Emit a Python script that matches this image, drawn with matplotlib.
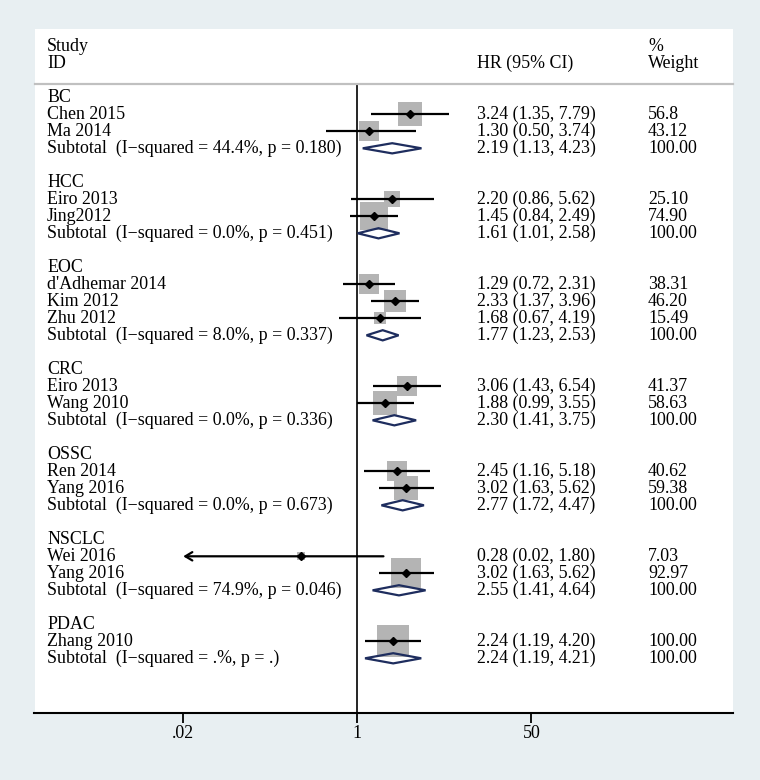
import numpy as np
import matplotlib
matplotlib.use("Agg")
import matplotlib.pyplot as plt
from matplotlib.patches import Polygon
from matplotlib.transforms import blended_transform_factory

# ---------------- data ----------------
groups = ["BC", "HCC", "EOC", "CRC", "OSSC", "NSCLC", "PDAC"]
studies = [
    ["Chen 2015", "Ma 2014"],
    ["Eiro 2013", "Jing2012"],
    ["d'Adhemar 2014", "Kim 2012", "Zhu 2012"],
    ["Eiro 2013", "Wang 2010"],
    ["Ren 2014", "Yang 2016"],
    ["Wei 2016", "Yang 2016"],
    ["Zhang 2010"],
]
hr = [[3.24, 1.30], [2.20, 1.45], [1.29, 2.33, 1.68], [3.06, 1.88],
      [2.45, 3.02], [0.28, 3.02], [2.24]]
lo = [[1.35, 0.50], [0.86, 0.84], [0.72, 1.37, 0.67], [1.43, 0.99],
      [1.16, 1.63], [0.02, 1.63], [1.19]]
hi = [[7.79, 3.74], [5.62, 2.49], [2.31, 3.96, 4.19], [6.54, 3.55],
      [5.18, 5.62], [1.80, 5.62], [4.20]]
weights = [["56.8", "43.12"], ["25.10", "74.90"], ["38.31", "46.20", "15.49"],
           ["41.37", "58.63"], ["40.62", "59.38"], ["7.03", "92.97"], ["100.00"]]
sub_hr = [2.19, 1.61, 1.77, 2.30, 2.77, 2.55, 2.24]
sub_lo = [1.13, 1.01, 1.23, 1.41, 1.72, 1.41, 1.19]
sub_hi = [4.23, 2.58, 2.53, 3.75, 4.47, 4.64, 4.21]
i2 = ["44.4%", "0.0%", "8.0%", "0.0%", "0.0%", "74.9%", ".%"]
pval = ["0.180", "0.451", "0.337", "0.336", "0.673", "0.046", "."]
xticks = [0.02, 1, 50]
xticklabels = [".02", "1", "50"]
clip_low = 0.02  # CI truncated at the lowest axis label (arrow)

# ---------------- styling ----------------
FONT = "Liberation Serif"
FS = 12.9
BG = "#e8eff2"
BOXC = "#b4b4b4"
DIAC = "#1e2d5e"

W, H = 760, 780
fig = plt.figure(figsize=(W / 100, H / 100), dpi=100, facecolor=BG)
x0p, x1p, y0p, y1p = 34.5, 733.0, 28.5, 713.0
ax = fig.add_axes([x0p / W, (H - y1p) / H, (x1p - x0p) / W, (y1p - y0p) / H])
ax.set_facecolor("white")

one_px, px_per_ln = 357.3, 44.5
ax.set_xscale("log")
ax.set_xlim(np.exp((x0p - one_px) / px_per_ln), np.exp((x1p - one_px) / px_per_ln))
row0_px, row_px = 97.3, 17.0
ax.set_ylim((y1p - row0_px) / row_px, (y0p - row0_px) / row_px)

for s in ["top", "right", "left"]:
    ax.spines[s].set_visible(False)
ax.spines["bottom"].set_linewidth(1.5)
ax.set_yticks([])
ax.set_xticks(xticks)
ax.set_xticklabels(xticklabels, fontfamily=FONT, fontsize=FS)
ax.xaxis.set_minor_locator(matplotlib.ticker.NullLocator())
ax.tick_params(axis="x", direction="out", length=7.5, width=1.3, pad=1.5, color="black")

tr = blended_transform_factory(ax.transAxes, ax.transData)
xl = (47 - x0p) / (x1p - x0p)
xh = (477 - x0p) / (x1p - x0p)
xw = (648 - x0p) / (x1p - x0p)
boff = 0.25  # baseline offset of text in rows

def txt(x, y, s):
    ax.text(x, y + boff, s, transform=tr, fontfamily=FONT, fontsize=FS,
            va="baseline", ha="left", color="black")

# header
txt(xl, -3, "Study")
txt(xl, -2, "ID")
txt(xh, -2, "HR (95% CI)")
txt(xw, -3, "%")
txt(xw, -2, "Weight")
hdr_y = (84.3 - row0_px) / row_px
ax.plot([0, 1], [hdr_y, hdr_y], transform=tr, color="#c0c0c0", lw=1.6, clip_on=False)

# null line
ax.plot([1, 1], [hdr_y, ax.get_ylim()[0]], color="black", lw=1.2, zorder=1)

box_max_pt = 31.5 * 0.72
row = 0
for g in range(len(groups)):
    txt(xl, row, groups[g])
    row += 1
    for k in range(len(studies[g])):
        y = row
        txt(xl, y, studies[g][k])
        txt(xh, y, f"{hr[g][k]:.2f} ({lo[g][k]:.2f}, {hi[g][k]:.2f})")
        txt(xw, y, weights[g][k])
        w = float(weights[g][k])
        ax.plot([hr[g][k]], [y], marker="s", ms=box_max_pt * np.sqrt(w / 100),
                color=BOXC, mew=0, zorder=2)
        if lo[g][k] <= clip_low:
            ax.annotate("", xy=(clip_low, y), xytext=(hi[g][k], y),
                        arrowprops=dict(arrowstyle="->,head_length=0.5,head_width=0.3",
                                        lw=1.6, color="black", shrinkA=0, shrinkB=0),
                        zorder=3)
        else:
            ax.plot([lo[g][k], hi[g][k]], [y, y], color="black", lw=1.6, zorder=3,
                    solid_capstyle="butt")
        ax.plot([hr[g][k]], [y], marker="D", ms=3.6, color="black", zorder=4)
        row += 1
    y = row
    txt(xl, y, f"Subtotal  (I\u2212squared = {i2[g]}, p = {pval[g]})")
    txt(xh, y, f"{sub_hr[g]:.2f} ({sub_lo[g]:.2f}, {sub_hi[g]:.2f})")
    txt(xw, y, "100.00")
    hh = 0.3
    dia = Polygon([(sub_lo[g], y), (sub_hr[g], y - hh), (sub_hi[g], y), (sub_hr[g], y + hh)],
                  closed=True, facecolor="none", edgecolor=DIAC, lw=1.6, zorder=5)
    ax.add_patch(dia)
    row += 2

fig.savefig("out.png", dpi=100, facecolor=BG)
